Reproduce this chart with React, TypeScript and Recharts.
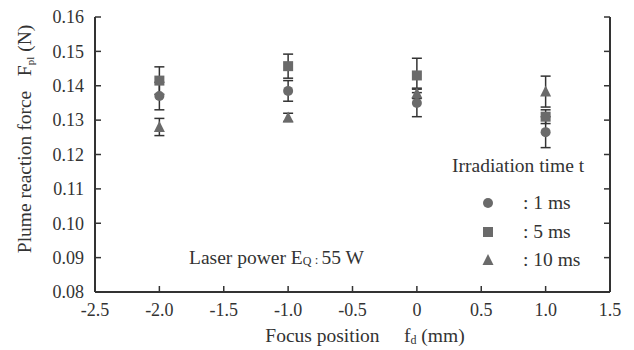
import {
  ComposedChart,
  Scatter,
  ErrorBar,
  XAxis,
  YAxis,
  Legend,
} from "recharts";

// focus position (mm)
const focusPositions = [-2.0, -1.0, 0, 1.0];

// plume reaction force (N) and error half-widths per irradiation time
const force1ms = [0.137, 0.1385, 0.135, 0.1265];
const err1ms = [0.004, 0.003, 0.004, 0.0045];
const force5ms = [0.1415, 0.1457, 0.143, 0.131];
const err5ms = [0.004, 0.0035, 0.005, 0.002];
const force10ms = [0.128, 0.1308, 0.1378, 0.1383];
const err10ms = [0.0025, 0.0012, 0.0015, 0.0045];

const xTicks = [-2.5, -2.0, -1.5, -1.0, -0.5, 0, 0.5, 1.0, 1.5];
const yTicks = [0.08, 0.09, 0.1, 0.11, 0.12, 0.13, 0.14, 0.15, 0.16];

const seriesNames = [": 1 ms", ": 5 ms", ": 10 ms"];
const legendTitle = "Irradiation time t";

const build = (ys: number[], errs: number[]) =>
  focusPositions.map((x, i) => ({ x, y: ys[i], err: errs[i] }));

const data1 = build(force1ms, err1ms);
const data5 = build(force5ms, err5ms);
const data10 = build(force10ms, err10ms);

const FONT = "'Liberation Serif', 'Times New Roman', serif";
const INK = "#333";
const MARK = "#6a6a6a";
const TICK = 6;
const TICK_FS = 18;
const TEXT_FS = 19.5;

const BottomTick = ({ x, y, payload }: any) => (
  <g>
    <line x1={x} y1={y} x2={x} y2={y - TICK} stroke={INK} strokeWidth={1.5} />
    <text
      x={x}
      y={y + 24}
      textAnchor="middle"
      fontFamily={FONT}
      fontSize={TICK_FS}
      fill={INK}
    >
      {payload.value === 0 ? "0" : payload.value.toFixed(1)}
    </text>
  </g>
);

const TopTick = ({ x, y }: any) => (
  <line x1={x} y1={y} x2={x} y2={y + TICK} stroke={INK} strokeWidth={1.5} />
);

const LeftTick = ({ x, y, payload }: any) => (
  <g>
    <line x1={x} y1={y} x2={x + TICK} y2={y} stroke={INK} strokeWidth={1.5} />
    <text
      x={x - 11}
      y={y}
      dy="0.35em"
      textAnchor="end"
      fontFamily={FONT}
      fontSize={TICK_FS}
      fill={INK}
    >
      {payload.value.toFixed(2)}
    </text>
  </g>
);

const RightTick = ({ x, y }: any) => (
  <line x1={x} y1={y} x2={x - TICK} y2={y} stroke={INK} strokeWidth={1.5} />
);

const Circle = ({ cx, cy }: any) => <circle cx={cx} cy={cy} r={5} fill={MARK} />;
const Square = ({ cx, cy }: any) => (
  <rect x={cx - 5} y={cy - 5} width={10} height={10} fill={MARK} />
);
const Triangle = ({ cx, cy }: any) => (
  <polygon
    points={`${cx},${cy - 6} ${cx + 5.5},${cy + 5} ${cx - 5.5},${cy + 5}`}
    fill={MARK}
  />
);

const legendShapes = [Circle, Square, Triangle];

const LegendBox = () => (
  <div style={{ fontFamily: FONT, fontSize: TEXT_FS, color: INK }}>
    <div style={{ marginLeft: 12, height: 28 }}>{legendTitle}</div>
    {seriesNames.map((name, i) => {
      const Shape = legendShapes[i];
      return (
        <div
          key={name}
          style={{ display: "flex", alignItems: "center", height: 28.5, marginTop: i === 0 ? 6 : 0 }}
        >
          <svg width={20} height={20} style={{ marginLeft: 38 }}>
            <Shape cx={10} cy={10} />
          </svg>
          <span style={{ marginLeft: 25 }}>{name}</span>
        </div>
      );
    })}
  </div>
);

const YTitle = () => (
  <text
    transform="translate(31,139) rotate(-90)"
    textAnchor="middle"
    fontFamily={FONT}
    fontSize={TEXT_FS}
    fill={INK}
  >
    Plume reaction force{"\u00a0\u00a0\u00a0"}F
    <tspan fontSize={11} dy={3}>pl</tspan>
    <tspan dy={-3}>{"\u00a0"}(N)</tspan>
  </text>
);

const XTitle = () => (
  <text
    x={365}
    y={342}
    textAnchor="middle"
    fontFamily={FONT}
    fontSize={TEXT_FS}
    fill={INK}
  >
    Focus position{"\u00a0\u00a0\u00a0\u00a0\u00a0"}f
    <tspan fontSize={12} dy={2}>d</tspan>
    <tspan dy={-2}>{"\u00a0"}(mm)</tspan>
  </text>
);

export default function App() {
  return (
    <div
      style={{
        position: "absolute",
        left: 0,
        top: 0,
        width: 634,
        height: 350,
        background: "#fff",
      }}
    >
      <ComposedChart
        width={634}
        height={350}
        margin={{ top: 17, right: 0, bottom: 0, left: 0 }}
      >
        <XAxis
          type="number"
          dataKey="x"
          domain={[-2.5, 1.5]}
          ticks={xTicks}
          height={58}
          tickSize={0}
          tickMargin={0}
          tick={<BottomTick />}
          axisLine={{ stroke: INK, strokeWidth: 2 }}
          label={<XTitle />}
          allowDataOverflow
        />
        <XAxis
          xAxisId="top"
          orientation="top"
          type="number"
          dataKey="x"
          domain={[-2.5, 1.5]}
          ticks={xTicks}
          height={0}
          tickSize={0}
          tickMargin={0}
          tick={<TopTick />}
          axisLine={{ stroke: INK, strokeWidth: 2 }}
          allowDataOverflow
        />
        <YAxis
          type="number"
          domain={[0.08, 0.16]}
          ticks={yTicks}
          width={95}
          tickSize={0}
          tickMargin={0}
          tick={<LeftTick />}
          axisLine={{ stroke: INK, strokeWidth: 2 }}
          label={<YTitle />}
          allowDataOverflow
        />
        <YAxis
          yAxisId="right"
          orientation="right"
          type="number"
          domain={[0.08, 0.16]}
          ticks={yTicks}
          width={24}
          tickSize={0}
          tickMargin={0}
          tick={<RightTick />}
          axisLine={{ stroke: INK, strokeWidth: 2 }}
          allowDataOverflow
        />
        <Legend
          layout="horizontal"
          verticalAlign="middle"
          align="center"
          content={<LegendBox />}
          wrapperStyle={{ left: 440, top: 155, width: 180 }}
        />
        <Scatter
          name="1 ms"
          data={data1}
          dataKey="y"
          shape={<Circle />}
          isAnimationActive={false}
        >
          <ErrorBar dataKey="err" direction="y" width={5} stroke={INK} strokeWidth={1.5} />
        </Scatter>
        <Scatter
          name="5 ms"
          data={data5}
          dataKey="y"
          shape={<Square />}
          isAnimationActive={false}
        >
          <ErrorBar dataKey="err" direction="y" width={5} stroke={INK} strokeWidth={1.5} />
        </Scatter>
        <Scatter
          name="10 ms"
          data={data10}
          dataKey="y"
          shape={<Triangle />}
          isAnimationActive={false}
        >
          <ErrorBar dataKey="err" direction="y" width={5} stroke={INK} strokeWidth={1.5} />
        </Scatter>
      </ComposedChart>
      <div
        style={{
          position: "absolute",
          left: 189,
          top: 247,
          fontFamily: FONT,
          fontSize: TEXT_FS,
          color: INK,
          whiteSpace: "nowrap",
        }}
      >
        Laser power E
        <span style={{ fontSize: 12, position: "relative", top: 1 }}>Q</span>
        <span style={{ fontSize: 13 }}> : </span>
        55 W
      </div>
    </div>
  );
}
